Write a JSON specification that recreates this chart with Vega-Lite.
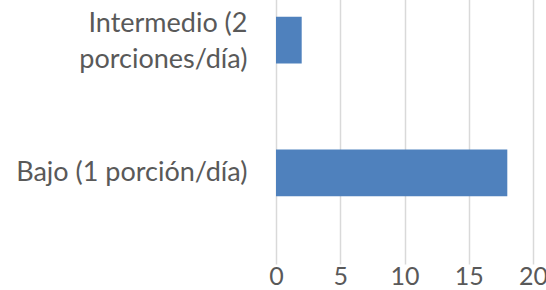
{
  "$schema": "https://vega.github.io/schema/vega-lite/v6.json",
  "width": 257,
  "height": 238,
  "autosize": "none",
  "padding": {"left": 276, "top": 0, "right": 13, "bottom": 52},
  "background": "white",
  "config": {"view": {"stroke": null}},
  "data": {"values": [
    {"categoria": "Intermedio (2 porciones/día)", "valor": 2},
    {"categoria": "Bajo (1 porción/día)", "valor": 18}
  ]},
  "mark": {"type": "bar", "color": "#4f81bd"},
  "encoding": {
    "y": {
      "field": "categoria",
      "type": "nominal",
      "sort": null,
      "title": null,
      "scale": {"range": [-26, 239], "paddingInner": 0.647, "paddingOuter": 0.323},
      "axis": {
        "domain": false,
        "ticks": false,
        "grid": false,
        "labelFont": "Lato",
        "labelFontSize": 27,
        "labelColor": "#595959",
        "labelPadding": 29,
        "labelLimit": 400,
        "labelLineHeight": 36,
        "labelOffset": {"expr": "datum.value == 'Intermedio (2 porciones/día)' ? -16 : 0"},
        "labelExpr": "datum.value == 'Intermedio (2 porciones/día)' ? ['Intermedio (2', 'porciones/día)'] : datum.label"
      }
    },
    "x": {
      "field": "valor",
      "type": "quantitative",
      "title": null,
      "scale": {"domain": [0, 20], "nice": false},
      "axis": {
        "values": [0, 5, 10, 15, 20],
        "domain": false,
        "ticks": false,
        "grid": true,
        "gridColor": "#d9d9d9",
        "gridWidth": 1.5,
        "labelFont": "Lato",
        "labelFontSize": 25,
        "labelColor": "#595959",
        "labelPadding": 26,
        "labelFlush": false,
        "labelOverlap": false
      }
    }
  }
}
